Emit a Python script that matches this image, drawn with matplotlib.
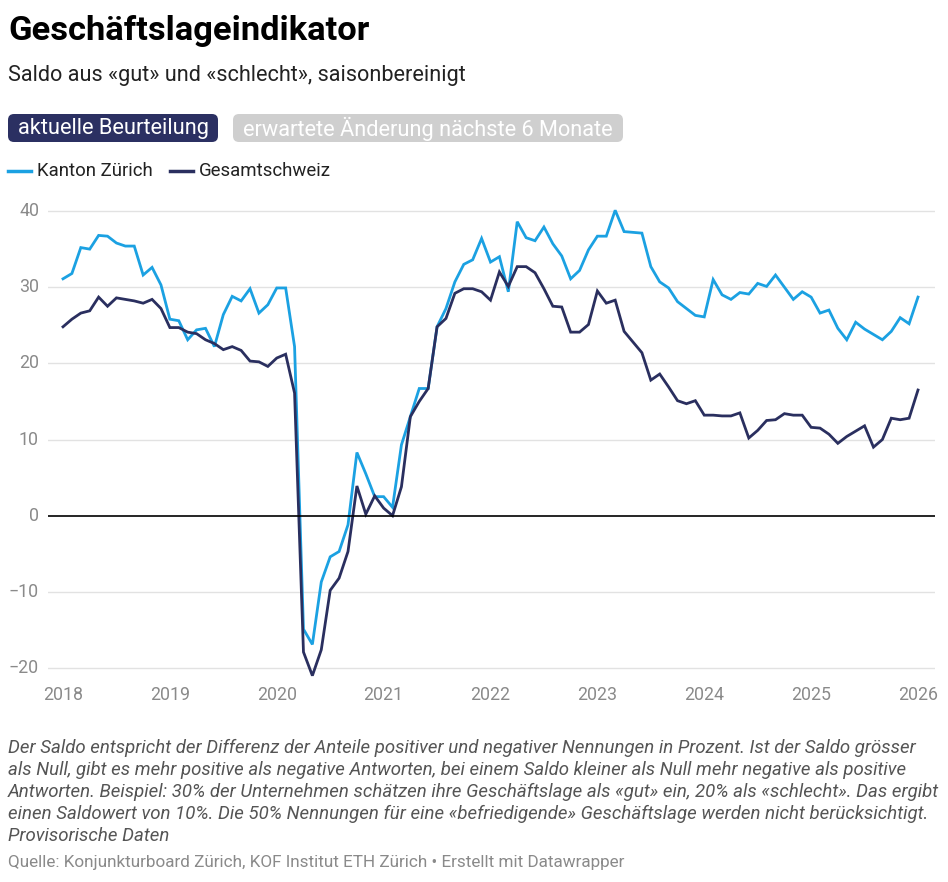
import matplotlib
matplotlib.use("Agg")
import matplotlib.pyplot as plt
from matplotlib.patches import FancyBboxPatch
from matplotlib.transforms import IdentityTransform

# ---------------- data ----------------
years = ["2018", "2019", "2020", "2021", "2022", "2023", "2024", "2025", "2026"]
n_months = 97  # Jan 2018 .. Jan 2026

zuerich = [31.1, 31.8, 35.2, 35.0, 36.8, 36.7, 35.8, 35.4, 35.4, 31.6, 32.6, 30.3,
           25.8, 25.6, 23.1, 24.4, 24.6, 22.2, 26.4, 28.8, 28.2, 29.8, 26.6, 27.7,
           29.9, 29.9, 22.2, -14.9, -16.9, -8.7, -5.4, -4.7, -1.2, 8.3, 5.5, 2.5,
           2.5, 1.1, 9.3, 13.0, 16.7, 16.7, 24.8, 27.2, 30.7, 33.0, 33.6, 36.4,
           33.3, 34.0, 29.4, 38.6, 36.5, 36.1, 37.9, 35.7, 34.1, 31.1, 32.2, 34.9,
           36.7, 36.7, 40.1, 37.3, 37.2, 37.1, 32.7, 30.7, 29.9, 28.1, 27.2, 26.3,
           26.1, 31.0, 29.0, 28.4, 29.3, 29.1, 30.5, 30.1, 31.6, 30.0, 28.4, 29.4,
           28.7, 26.6, 27.0, 24.6, 23.1, 25.4, 24.5, 23.8, 23.1, 24.2, 26.0, 25.2,
           28.7]

schweiz = [24.8, 25.8, 26.6, 26.9, 28.7, 27.5, 28.6, 28.4, 28.2, 27.9, 28.4, 27.2,
           24.7, 24.7, 24.1, 23.9, 23.1, 22.6, 21.8, 22.2, 21.7, 20.3, 20.2, 19.6,
           20.7, 21.2, 16.1, -17.9, -21.0, -17.6, -9.8, -8.2, -4.7, 3.9, 0.2, 2.6,
           1.0, 0.0, 3.8, 13.0, 15.0, 16.7, 24.8, 25.9, 29.2, 29.8, 29.8, 29.4,
           28.3, 32.0, 30.1, 32.7, 32.7, 31.9, 29.8, 27.5, 27.4, 24.1, 24.1, 25.1,
           29.5, 27.9, 28.3, 24.2, 22.8, 21.4, 17.8, 18.6, 16.9, 15.1, 14.7, 15.1,
           13.2, 13.2, 13.1, 13.1, 13.5, 10.2, 11.2, 12.5, 12.6, 13.4, 13.2, 13.2,
           11.6, 11.5, 10.7, 9.5, 10.4, 11.1, 11.8, 9.0, 10.0, 12.8, 12.6, 12.8,
           16.5]

y_ticks = [-20, -10, 0, 10, 20, 30, 40]
series_names = ["Kanton Zürich", "Gesamtschweiz"]

# ---------------- style ----------------
C_ZH = "#1ba1e2"
C_CH = "#2a2f5f"
GRID = "#e2e2e2"
TICK = "#8a8a8a"
FONT = "Roboto"

W, H = 948, 882
fig = plt.figure(figsize=(W / 100, H / 100), dpi=100)
fig.patch.set_facecolor("white")


def fx(px):
    return px / W


def fy(py):
    return 1 - py / H


# axes placed in pixel coordinates
ax_l, ax_r, ax_t, ax_b = 48, 935, 205, 684
ax = fig.add_axes([fx(ax_l), fy(ax_b), (ax_r - ax_l) / W, (ax_b - ax_t) / H])

x = list(range(n_months))
ax.plot(x, zuerich, color=C_ZH, lw=2.0, solid_joinstyle="miter", zorder=3)
ax.plot(x, schweiz, color=C_CH, lw=2.0, solid_joinstyle="miter", zorder=4)

px_per_month = (918 - 63) / 96
ax.set_xlim((ax_l - 63) / px_per_month, (ax_r - 63) / px_per_month)
ppu = (668 - 211) / 60.0
ax.set_ylim((515.7 - ax_b) / ppu, (515.7 - ax_t) / ppu)

for v in y_ticks:
    if v == 0:
        ax.axhline(0, color="black", lw=1.2, zorder=5)
    else:
        ax.axhline(v, color=GRID, lw=1.0, zorder=1)

for s in ax.spines.values():
    s.set_visible(False)
ax.set_xticks([])
ax.set_yticks([])

# y tick labels
for v in y_ticks:
    lab = str(v) if v >= 0 else "\u2212" + str(-v)
    ypix = 515.7 - v * ppu
    fig.text(fx(39), fy(ypix), lab, ha="right", va="center", fontsize=12.8,
             color=TICK, family=FONT)

# x tick labels
for i, yr in enumerate(years):
    m = 12 * i
    xpix = 63 + m * px_per_month
    fig.text(fx(xpix), fy(695), yr, ha="center", va="center", fontsize=12.8,
             color=TICK, family=FONT)

# ---------------- header ----------------
fig.text(fx(8), fy(40), "Geschäftslageindikator", ha="left", va="baseline",
         fontsize=24.8, fontweight="bold", color="black", family=FONT)
fig.text(fx(8), fy(81), "Saldo aus «gut» und «schlecht», saisonbereinigt",
         ha="left", va="baseline", fontsize=15.6, color="#222222", family=FONT)

# buttons
def button(x0, y0, w, h, fc):
    p = FancyBboxPatch((x0, H - y0 - h), w, h,
                       boxstyle="round,pad=0,rounding_size=6",
                       transform=IdentityTransform(), facecolor=fc,
                       edgecolor="none", zorder=1)
    fig.add_artist(p)

button(8, 114, 210, 28, "#2b3062")
button(233, 114, 390, 28, "#cfcfcf")
fig.text(fx(113), fy(128.5), "aktuelle Beurteilung", ha="center", va="center",
         fontsize=15.7, color="white", family=FONT, zorder=2)
fig.text(fx(428), fy(128.5), "erwartete Änderung nächste 6 Monate", ha="center",
         va="center", fontsize=15.7, color="white", family=FONT, zorder=2)

# legend
def legend_item(x0, label, color):
    fig.add_artist(plt.Line2D([fx(x0), fx(x0 + 23)], [fy(171), fy(171)],
                              transform=fig.transFigure, color=color, lw=2.5))
    fig.text(fx(x0 + 29), fy(171), label, ha="left", va="center", fontsize=13.4,
             color="#222222", family=FONT)

legend_item(8, series_names[0], C_ZH)
legend_item(170, series_names[1], C_CH)

# ---------------- notes ----------------
notes = [
    "Der Saldo entspricht der Differenz der Anteile positiver und negativer Nennungen in Prozent. Ist der Saldo grösser",
    "als Null, gibt es mehr positive als negative Antworten, bei einem Saldo kleiner als Null mehr negative als positive",
    "Antworten. Beispiel: 30% der Unternehmen schätzen ihre Geschäftslage als «gut» ein, 20% als «schlecht». Das ergibt",
    "einen Saldowert von 10%. Die 50% Nennungen für eine «befriedigende» Geschäftslage werden nicht berücksichtigt.",
    "Provisorische Daten",
]
for i, line in enumerate(notes):
    fig.text(fx(8), fy(748 + i * 22), line, ha="left", va="center", fontsize=13.4,
             style="italic", color="#555555", family=FONT)

fig.text(fx(8), fy(862), "Quelle: Konjunkturboard Zürich, KOF Institut ETH Zürich • Erstellt mit Datawrapper",
         ha="left", va="center", fontsize=12.35, color="#8a8a8a", family=FONT)

fig.savefig("out.png", dpi=100, facecolor="white")
